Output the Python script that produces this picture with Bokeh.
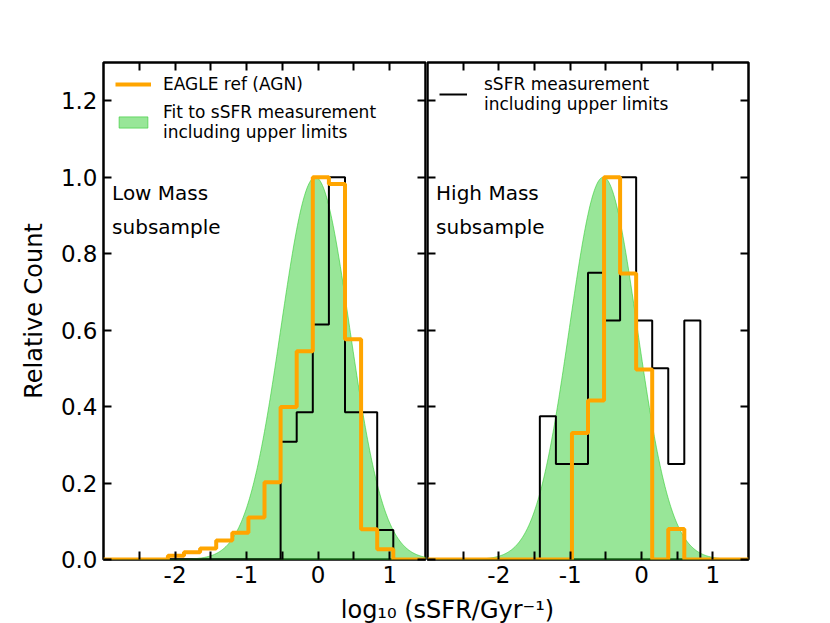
import numpy as np
from bokeh.plotting import figure
from bokeh.models import (Range1d, LinearAxis, FixedTicker, Legend, LegendItem, Label,
                          CustomLabelingPolicy)
from bokeh.layouts import row, column
from bokeh.embed import file_html
from bokeh.resources import INLINE

# ---------------- data ----------------
BIN_EDGES = [-3.0, -2.775, -2.55, -2.325, -2.1, -1.875, -1.65, -1.425, -1.2, -0.975,
             -0.75, -0.525, -0.3, -0.075, 0.15, 0.375, 0.6, 0.825, 1.05, 1.275, 1.5]

# Low mass subsample (20 bins)
LOW_OBS = [0, 0, 0, 0, 0, 0, 0, 0, 0, 0,
           0, 0.308, 0.385, 0.615, 1.0, 0.385, 0.385, 0.077, 0, 0]
LOW_EAGLE = [0, 0, 0, 0, 0.010, 0.019, 0.029, 0.050, 0.070, 0.110,
             0.202, 0.399, 0.545, 1.0, 0.982, 0.576, 0.079, 0.027, 0, 0]
LOW_FIT_MU = -0.04
LOW_FIT_SIGMA = 0.48

# High mass subsample (20 bins)
HIGH_OBS = [0, 0, 0, 0, 0, 0, 0, 0.375, 0.25, 0.25,
            0.75, 0.625, 1.0, 0.625, 0.5, 0.25, 0.625, 0, 0, 0]
HIGH_EAGLE = [0, 0, 0, 0, 0, 0, 0, 0, 0, 0.331,
              0.416, 1.0, 0.748, 0.497, 0, 0.080, 0, 0, 0, 0]
HIGH_FIT_MU = -0.535
HIGH_FIT_SIGMA = 0.475

X_TICKS = [-2, -1, 0, 1]
X_TICK_LABELS = ["-2", "-1", "0", "1"]
X_MINOR_TICKS = [-2.5, -1.5, -0.5, 0.5]
Y_TICKS = [0.0, 0.2, 0.4, 0.6, 0.8, 1.0, 1.2]
Y_TICK_LABELS = ["0.0", "0.2", "0.4", "0.6", "0.8", "1.0", "1.2"]

LEGEND_EAGLE = "EAGLE ref (AGN)"
LEGEND_FIT = "Fit to sSFR measurement\nincluding upper limits"
LEGEND_OBS = "sSFR measurement\nincluding upper limits"
LOW_TEXT = ["Low Mass", "subsample"]
HIGH_TEXT = ["High Mass", "subsample"]
X_LABEL = "log\u2081\u2080 (sSFR/Gyr\u207b\u00b9)"
Y_LABEL = "Relative Count"

FONT = "DejaVu Sans"
ORANGE = "#FFA500"
GREEN = "limegreen"
TOTAL_W = 830
TOTAL_H = 623
ROW_H = 592
FRAME_TOP = 62
FRAME_BOTTOM = 559


def no_labels():
    return CustomLabelingPolicy(code="for (const i of indices) { indices.unset(i) } return indices")


def style_axis(ax, labels):
    ax.axis_line_color = None
    ax.major_tick_in = 8
    ax.major_tick_out = 0
    ax.minor_tick_in = 8
    ax.minor_tick_out = 0
    ax.major_tick_line_width = 2
    ax.minor_tick_line_width = 2
    ax.major_tick_line_color = "black"
    ax.minor_tick_line_color = "black"
    if labels:
        ax.major_label_text_font = FONT
        ax.major_label_text_font_size = "23px"
        ax.major_label_text_color = "black"
        ax.major_label_standoff = 6
    else:
        ax.major_label_policy = no_labels()
        ax.major_label_text_font_size = "0px"
        ax.major_label_standoff = 0


def make_panel(width, border_left, border_right, left_labels):
    p = figure(width=width, height=ROW_H, x_range=Range1d(-3, 1.5), y_range=Range1d(0, 1.3),
               output_backend="svg", toolbar_location=None,
               min_border_left=border_left, min_border_right=border_right,
               min_border_top=FRAME_TOP, min_border_bottom=ROW_H - FRAME_BOTTOM,
               x_axis_location=None, y_axis_location=None)
    p.grid.visible = False
    p.outline_line_color = "black"
    p.outline_line_width = 2.5
    p.background_fill_color = "white"
    p.border_fill_color = "white"

    bottom = LinearAxis(ticker=FixedTicker(ticks=X_TICKS, minor_ticks=X_MINOR_TICKS),
                        major_label_overrides=dict(zip(X_TICKS, X_TICK_LABELS)))
    style_axis(bottom, True)
    p.add_layout(bottom, "below")

    top = LinearAxis(ticker=FixedTicker(ticks=X_TICKS, minor_ticks=X_MINOR_TICKS))
    style_axis(top, False)
    p.add_layout(top, "above")

    left = LinearAxis(ticker=FixedTicker(ticks=Y_TICKS),
                      major_label_overrides=dict(zip(Y_TICKS, Y_TICK_LABELS)))
    style_axis(left, left_labels)
    if left_labels:
        left.axis_label = Y_LABEL
        left.axis_label_text_font = FONT
        left.axis_label_text_font_size = "24px"
        left.axis_label_text_font_style = "normal"
        left.axis_label_text_color = "black"
        left.axis_label_standoff = 10
    p.add_layout(left, "left")

    right = LinearAxis(ticker=FixedTicker(ticks=Y_TICKS))
    style_axis(right, False)
    p.add_layout(right, "right")
    return p


def add_hists(p, obs, eagle, mu, sigma):
    xs = np.linspace(BIN_EDGES[0], BIN_EDGES[-1], 451)
    ys = np.exp(-0.5 * ((xs - mu) / sigma) ** 2)
    px = np.concatenate([xs, [BIN_EDGES[-1], BIN_EDGES[0]]])
    py = np.concatenate([ys, [0.0, 0.0]])
    r_fit = p.patch(x=px, y=py, fill_color=GREEN, fill_alpha=0.5,
                    line_color=GREEN, line_alpha=0.6, line_width=1)
    r_obs = p.step(x=BIN_EDGES, y=obs + [obs[-1]], mode="after",
                   line_color="black", line_width=2)
    r_eagle = p.step(x=BIN_EDGES, y=eagle + [eagle[-1]], mode="after",
                     line_color=ORANGE, line_width=4)
    return r_fit, r_obs, r_eagle


def add_text(p, lines):
    ys = [0.958, 0.869]
    for t, y in zip(lines, ys):
        p.add_layout(Label(x=-2.88, y=y, text=t, text_font=FONT, text_font_size="20px",
                           text_align="left", text_baseline="alphabetic", text_color="black"))


def make_legend(items, glyph_w, standoff, spacing):
    return Legend(items=items, location="top_left", border_line_color=None,
                  background_fill_alpha=0, label_text_font=FONT, label_text_color="black",
                  label_text_font_size="17px", label_text_line_height=1.0,
                  glyph_width=glyph_w, glyph_height=14, label_standoff=standoff,
                  spacing=spacing, padding=4, margin=12)


p1 = make_panel(426, 103, 1, True)
f1, o1, e1 = add_hists(p1, LOW_OBS, LOW_EAGLE, LOW_FIT_MU, LOW_FIT_SIGMA)
add_text(p1, LOW_TEXT)
p1.add_layout(make_legend([LegendItem(label=LEGEND_EAGLE, renderers=[e1]),
                           LegendItem(label=LEGEND_FIT, renderers=[f1])], 36, 12, 8))

p2 = make_panel(TOTAL_W - 426, 1, TOTAL_W - 748, False)
f2, o2, e2 = add_hists(p2, HIGH_OBS, HIGH_EAGLE, HIGH_FIT_MU, HIGH_FIT_SIGMA)
add_text(p2, HIGH_TEXT)
p2.add_layout(make_legend([LegendItem(label=LEGEND_OBS, renderers=[o2])], 28, 17, 8))

p3 = figure(width=TOTAL_W, height=TOTAL_H - ROW_H, x_range=Range1d(0, 1), y_range=Range1d(0, 1),
            output_backend="svg", toolbar_location=None, min_border=0,
            x_axis_location=None, y_axis_location=None)
p3.grid.visible = False
p3.outline_line_color = None
p3.add_layout(Label(x=447, y=14, x_units="screen", y_units="screen", text=X_LABEL,
                    text_font=FONT, text_font_size="24px", text_align="center",
                    text_baseline="alphabetic", text_color="black"))

layout = column(row(p1, p2), p3)
open("out.html", "w").write(file_html(layout, INLINE))
